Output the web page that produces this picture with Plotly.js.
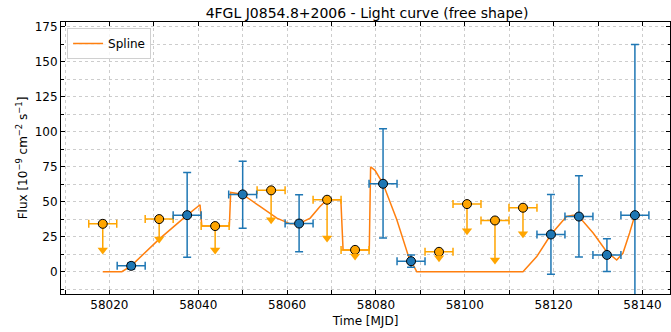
<!DOCTYPE html>
<html>
<head>
<meta charset="utf-8">
<script src="https://cdn.plot.ly/plotly-3.0.1.min.js"></script>
<style>html,body{margin:0;padding:0;background:#fff;}#chart{width:671px;height:332px;}</style>
</head>
<body>
<div id="chart"></div>
<script>
// Detections (blue points)
const detTime = [58024.9, 58037.5, 58050.0, 58062.7, 58081.6, 58087.9, 58119.4, 58125.7, 58132.0, 58138.3];
const detFlux = [4.2, 40.4, 55.2, 34.4, 62.8, 7.5, 26.6, 39.4, 12.0, 40.4];
const detErrHi = [2.3, 30.5, 23.6, 20.6, 39.2, 4.5, 28.6, 29.2, 11.5, 121.9];
const detErrLo = [2.4, 30.0, 24.1, 20.2, 38.8, 4.3, 28.4, 28.8, 11.9, 122.0];
// Upper limits (orange points)
const ulTime = [58018.5, 58031.2, 58043.8, 58056.4, 58069.0, 58075.3, 58094.2, 58100.5, 58106.8, 58113.1];
const ulFlux = [34.2, 37.6, 32.6, 58.1, 51.4, 15.6, 14.2, 48.3, 36.6, 45.7];
const ulArrow = [15.6, 23.3, 15.6, 37.1, 24.0, 11.3, 10.0, 29.2, 8.4, 27.1];
const binHalfWidth = 3.15;
// Spline curve
const splTime = [58018.5, 58022.8, 58024.9, 58031.2, 58037.5, 58040.4, 58040.8, 58047.0, 58047.3, 58050.0,
  58053.9, 58057.7, 58060.7, 58062.7, 58065.2, 58067.4, 58069.0, 58072.1, 58072.6, 58078.5,
  58078.8, 58079.8, 58081.6, 58084.7, 58087.3, 58089.2, 58113.1, 58116.2, 58119.4, 58122.9,
  58124.4, 58125.7, 58128.9, 58131.9, 58134.2, 58135.6, 58137.1, 58138.3];
const splFlux = [0, 0, 4.2, 23.3, 40.4, 47.8, 32.6, 32.6, 56.6, 55.2,
  46.6, 38.3, 34.2, 34.4, 38.3, 46.6, 51.4, 51.4, 15.6, 15.6,
  74.8, 72.4, 62.8, 37.1, 11.3, 0, 0, 10.8, 26.6, 39.4,
  40.4, 39.4, 27.6, 14.4, 8.4, 13.2, 27.6, 40.4];

const font = 'DejaVu Sans, sans-serif';
const ulErrMinus = ulFlux.map((v, i) => v - ulArrow[i]);
const ulZero = ulFlux.map(() => 0);
const halfW = detTime.map(() => binHalfWidth);
const halfWU = ulTime.map(() => binHalfWidth);

const traces = [
  {
    x: splTime, y: splFlux, mode: 'lines', name: 'Spline',
    line: {color: '#ff7f0e', width: 1.5}, showlegend: true
  },
  {
    x: ulTime, y: ulFlux, mode: 'markers', showlegend: false, hoverinfo: 'skip',
    marker: {symbol: 'circle', size: 9, color: '#ffa500', line: {color: '#000', width: 1}},
    error_x: {type: 'data', array: halfWU, color: '#ffa500', thickness: 1.5, width: 4},
    error_y: {type: 'data', symmetric: false, array: ulZero, arrayminus: ulErrMinus, color: '#ffa500', thickness: 1.5, width: 0}
  },
  {
    x: ulTime, y: ulArrow, mode: 'markers', showlegend: false, hoverinfo: 'skip',
    marker: {symbol: 'triangle-down', size: 9, color: '#ffa500', line: {width: 0}}
  },
  {
    x: detTime, y: detFlux, mode: 'markers', showlegend: false,
    marker: {symbol: 'circle', size: 9, color: '#1f77b4', line: {color: '#000', width: 1}},
    error_x: {type: 'data', array: halfW, color: '#1f77b4', thickness: 1.5, width: 4},
    error_y: {type: 'data', symmetric: false, array: detErrHi, arrayminus: detErrLo, color: '#1f77b4', thickness: 1.5, width: 4}
  }
];

const layout = {
  width: 671, height: 332,
  margin: {l: 61, r: 1, t: 22, b: 38},
  paper_bgcolor: '#fff', plot_bgcolor: '#fff',
  font: {family: font, size: 12, color: '#000'},
  title: {text: '4FGL J0854.8+2006 - Light curve (free shape)', font: {family: font, size: 14, color: '#000'},
          x: 0.547, xanchor: 'center', y: 0.962, yanchor: 'middle'},
  xaxis: {
    range: [58009.1, 58146.2], tick0: 58000, dtick: 20, tickformat: 'd',
    ticks: 'inside', ticklen: 4, tickcolor: '#000', showline: true, linecolor: '#000', linewidth: 1,
    mirror: 'ticks', zeroline: false,
    showgrid: true, gridcolor: '#c0c0c0', griddash: 'dot', gridwidth: 0.8,
    minor: {dtick: 10, tick0: 58000, ticks: 'inside', ticklen: 4, tickcolor: '#000', showgrid: true, gridcolor: '#c0c0c0', griddash: 'dot', gridwidth: 0.8},
    tickfont: {family: font, size: 12},
    title: {text: 'Time [MJD]', font: {family: font, size: 12}, standoff: 5}
  },
  yaxis: {
    range: [-15.9, 178.3], tick0: 0, dtick: 25,
    ticks: 'inside', ticklen: 4, tickcolor: '#000', showline: true, linecolor: '#000', linewidth: 1,
    mirror: 'ticks', zeroline: false,
    showgrid: true, gridcolor: '#c0c0c0', griddash: 'dot', gridwidth: 0.8,
    minor: {dtick: 12.5, tick0: 0, ticks: 'inside', ticklen: 2.5, tickcolor: '#000', showgrid: true, gridcolor: '#c0c0c0', griddash: 'dot', gridwidth: 0.8},
    tickfont: {family: font, size: 12},
    title: {text: 'Flux [10<sup>−9</sup> cm<sup>−2</sup> s<sup>−1</sup>]', font: {family: font, size: 12}, standoff: 4}
  },
  legend: {
    x: 0.01, y: 0.978, xanchor: 'left', yanchor: 'top',
    bgcolor: 'rgba(255,255,255,0.8)', bordercolor: '#d0d0d0', borderwidth: 1,
    font: {family: font, size: 12}
  }
};

Plotly.newPlot('chart', traces, layout, {displayModeBar: false, staticPlot: true});
</script>
</body>
</html>
